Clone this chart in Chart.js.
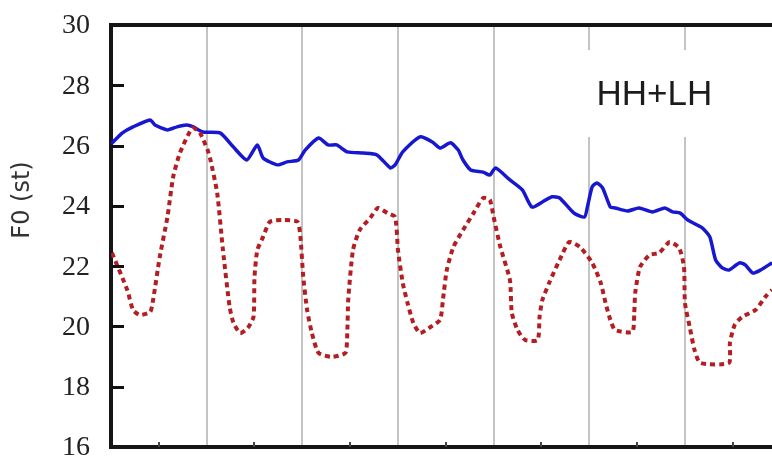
<!DOCTYPE html>
<html>
<head>
<meta charset="utf-8">
<script src="https://cdn.jsdelivr.net/npm/chart.js@4"></script>
<style>
  html, body { margin: 0; padding: 0; background: #fff; }
  #wrap { width: 772px; height: 459px; }
</style>
</head>
<body>
<div id="wrap"><canvas id="c"></canvas></div>
<script>
// time axis in grid units (one gridline per unit), F0 in semitones
const yTicks = [16, 18, 20, 22, 24, 26, 28, 30];
const xMax = 6.91;

const blueX = [0.00, 0.12, 0.23, 0.41, 0.46, 0.59, 0.69, 0.79, 0.86, 0.96, 1.14, 1.28, 1.42, 1.53, 1.59, 1.74, 1.84, 1.96,
  2.03, 2.17, 2.27, 2.36, 2.47, 2.64, 2.78, 2.92, 2.97, 3.05, 3.23, 3.36, 3.44, 3.55, 3.63, 3.68, 3.76, 3.89, 3.96,
  4.02, 4.17, 4.30, 4.40, 4.51, 4.61, 4.69, 4.84, 4.95, 4.98, 5.03, 5.08, 5.14, 5.22, 5.27, 5.40, 5.52, 5.66, 5.79,
  5.87, 5.95, 6.03, 6.18, 6.26, 6.32, 6.39, 6.46, 6.57, 6.63, 6.71, 6.79, 6.91];
const blueF0 = [26.05, 26.42, 26.62, 26.85, 26.68, 26.52, 26.62, 26.68, 26.62, 26.45, 26.42, 25.95, 25.52, 26.02, 25.59, 25.36, 25.46, 25.52,
  25.85, 26.25, 26.02, 26.02, 25.79, 25.75, 25.69, 25.26, 25.36, 25.79, 26.29, 26.12, 25.92, 26.09, 25.85, 25.52, 25.19, 25.12, 25.02,
  25.26, 24.86, 24.53, 23.96, 24.13, 24.30, 24.26, 23.76, 23.63, 23.96, 24.63, 24.76, 24.59, 23.96, 23.93, 23.83, 23.93, 23.80, 23.93,
  23.80, 23.76, 23.53, 23.27, 22.97, 22.21, 21.94, 21.87, 22.11, 22.04, 21.77, 21.87, 22.11];

const redX = [0.01, 0.17, 0.23, 0.30, 0.41, 0.44, 0.51, 0.59, 0.65, 0.72, 0.85, 0.93, 1.01, 1.04, 1.11, 1.17, 1.24, 1.28, 1.35, 1.43,
  1.49, 1.50, 1.53, 1.59, 1.66, 1.80, 1.95, 1.98, 2.01, 2.05, 2.10, 2.17, 2.31, 2.45, 2.47, 2.48, 2.53, 2.60, 2.71, 2.79, 2.89, 2.97,
  3.00, 3.05, 3.10, 3.16, 3.23, 3.34, 3.44, 3.47, 3.51, 3.58, 3.68, 3.79, 3.89, 3.96, 4.00, 4.07, 4.17, 4.19, 4.25, 4.33, 4.46, 4.48,
  4.51, 4.58, 4.69, 4.79, 4.90, 5.03, 5.12, 5.17, 5.22, 5.27, 5.45, 5.47, 5.48, 5.53, 5.63, 5.73, 5.84, 5.94, 5.99, 6.00, 6.05, 6.10,
  6.16, 6.46, 6.47, 6.52, 6.60, 6.74, 6.84, 6.91];
const redF0 = [22.44, 21.21, 20.55, 20.38, 20.48, 20.88, 22.31, 23.63, 24.96, 25.75, 26.58, 26.42, 25.85, 25.52, 24.43, 22.54, 20.65, 20.12, 19.78, 19.95,
  20.32, 21.64, 22.54, 22.97, 23.47, 23.53, 23.47, 22.97, 21.64, 20.55, 19.78, 19.12, 18.99, 19.12, 19.78, 20.88, 22.54, 23.20, 23.60, 23.93, 23.76, 23.63,
  22.54, 21.44, 20.78, 20.12, 19.78, 19.98, 20.22, 20.88, 21.87, 22.64, 23.20, 23.76, 24.26, 24.20, 23.63, 22.64, 21.54, 20.45, 19.88, 19.55, 19.55, 20.32,
  20.88, 21.44, 22.21, 22.80, 22.64, 22.11, 21.44, 20.78, 20.22, 19.88, 19.82, 20.45, 21.11, 21.97, 22.37, 22.44, 22.80, 22.60, 21.97, 20.78, 19.98, 19.22,
  18.79, 18.79, 19.45, 20.05, 20.32, 20.55, 20.98, 21.21];

const panelLabel = 'HH+LH';
const yTitle = 'F0 (st)';

const toPts = (xs, ys) => xs.map((x, i) => ({ x: x, y: ys[i] }));

// frame bits Chart.js doesn't do by itself: tick labels, inward ticks, top border, label box, rotated title
const extras = {
  id: 'extras',
  beforeDatasetsDraw(chart) {
    const { ctx, scales } = chart;
    const xs = scales.x;
    ctx.save();
    // white box behind the panel label
    ctx.fillStyle = '#fff';
    ctx.fillRect(xs.getPixelForValue(4.97), 50, 145, 87);
    ctx.fillStyle = '#1c1c1c';
    ctx.font = '35px "Liberation Sans", Arial, sans-serif';
    ctx.textAlign = 'center';
    ctx.textBaseline = 'middle';
    ctx.fillText(panelLabel, xs.getPixelForValue(5.68), 95);
    ctx.restore();
  },
  afterDraw(chart) {
    const { ctx, chartArea, scales } = chart;
    const xs = scales.x, ys = scales.y;
    ctx.save();
    ctx.fillStyle = '#222';
    ctx.font = '28px "Liberation Serif", "Times New Roman", serif';
    ctx.textAlign = 'right';
    ctx.textBaseline = 'middle';
    yTicks.forEach(v => ctx.fillText(String(v), 90, ys.getPixelForValue(v) + 1));

    ctx.strokeStyle = '#111';
    ctx.lineWidth = 3;
    yTicks.slice(1, -1).forEach(v => {
      const py = Math.round(ys.getPixelForValue(v)) + 0.5;
      ctx.beginPath();
      ctx.moveTo(chartArea.left, py);
      ctx.lineTo(chartArea.left + 13, py);
      ctx.stroke();
    });
    ctx.lineWidth = 2;
    ctx.strokeStyle = '#444';
    for (let v = 0.5; v < xMax; v += 1) {
      const px = Math.round(xs.getPixelForValue(v));
      ctx.beginPath();
      ctx.moveTo(px, chartArea.bottom);
      ctx.lineTo(px, chartArea.bottom - 5);
      ctx.stroke();
    }
    ctx.strokeStyle = '#151515';
    ctx.lineWidth = 4;
    ctx.beginPath();
    ctx.moveTo(chartArea.left - 1.5, chartArea.top);
    ctx.lineTo(chartArea.right, chartArea.top);
    ctx.stroke();

    ctx.translate(23, 200);
    ctx.rotate(-Math.PI / 2);
    ctx.fillStyle = '#333';
    ctx.font = '24px "DejaVu Sans", sans-serif';
    ctx.textAlign = 'center';
    ctx.textBaseline = 'middle';
    ctx.fillText(yTitle, 0, 0);
    ctx.restore();
  }
};

new Chart(document.getElementById('c'), {
  type: 'line',
  data: {
    datasets: [
      {
        label: 'LH',
        data: toPts(redX, redF0),
        borderColor: '#b41d22',
        borderWidth: 4,
        borderDash: [5, 4],
        pointRadius: 0,
        tension: 0.2,
        fill: false
      },
      {
        label: 'HH',
        data: toPts(blueX, blueF0),
        borderColor: '#1717cf',
        borderWidth: 3.5,
        pointRadius: 0,
        tension: 0.2,
        fill: false
      }
    ]
  },
  options: {
    responsive: true,
    maintainAspectRatio: false,
    animation: false,
    layout: { padding: { top: 25, right: 0, bottom: 0, left: 0 } },
    plugins: { legend: { display: false }, tooltip: { enabled: false } },
    scales: {
      x: {
        type: 'linear',
        min: 0,
        max: xMax,
        afterFit: (s) => { s.height = 12; },
        ticks: { display: false, stepSize: 0.5 },
        grid: {
          drawTicks: false,
          lineWidth: 2,
          color: (c) => {
            const v = c.tick ? c.tick.value : 0;
            return (v > 0 && Math.abs(v - Math.round(v)) < 1e-6) ? '#c4c4c4' : 'rgba(0,0,0,0)';
          }
        },
        border: { display: true, color: '#151515', width: 4 }
      },
      y: {
        min: 16,
        max: 30,
        afterFit: (s) => { s.width = 111; },
        ticks: { display: false, stepSize: 2 },
        grid: { display: false, drawTicks: false },
        border: { display: true, color: '#151515', width: 4 }
      }
    }
  },
  plugins: [extras]
});
</script>
</body>
</html>
